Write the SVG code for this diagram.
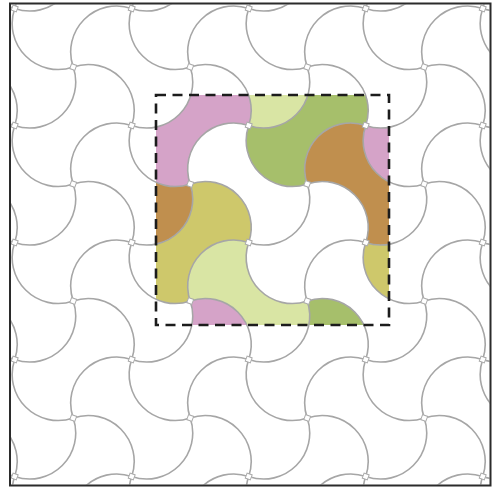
<svg xmlns="http://www.w3.org/2000/svg" xmlns:xlink="http://www.w3.org/1999/xlink" width="493" height="487" viewBox="0 0 493 487">
<style>
.arc{fill:none;stroke:#a6a6a6;stroke-width:1.6}
.jn{fill:#fff;stroke:#aaaaaa;stroke-width:1}
.pink{fill:#d5a3c8}
.lgreen{fill:#d9e5a4}
.green{fill:#a6bf6b}
.brown{fill:#c08f4e}
.olive{fill:#cec86b}
.box{fill:none;stroke:#1c1c1c;stroke-width:2.6;stroke-dasharray:10 6.5}
.frame{fill:none;stroke:#2b2b2b;stroke-width:2}
</style>
<defs>
<clipPath id="boxclip"><rect x="156" y="95" width="233" height="230"/></clipPath>
<clipPath id="frameclip"><rect x="11" y="4.5" width="478.5" height="480"/></clipPath>
<g id="arcunit"><path class="arc" d="M0,0A46,46 0 0 1 58.5,58.5M0,117A46,46 0 0 1 -58.5,58.5M0,0A46,46 0 0 1 58.5,-58.5M117,0A46,46 0 0 1 58.5,58.5"/></g>
<g id="arcrow"><use xlink:href="#arcunit" x="-43.8"/><use xlink:href="#arcunit" x="73.2"/><use xlink:href="#arcunit" x="190.2"/><use xlink:href="#arcunit" x="307.2"/><use xlink:href="#arcunit" x="424.2"/><use xlink:href="#arcunit" x="541.2"/></g>
<g id="jnunit"><rect class="jn" x="-2.7" y="-2.7" width="5.4" height="5.4" transform="rotate(20)"/><rect class="jn" x="-2.7" y="-2.7" width="5.4" height="5.4" transform="translate(58.5 58.5) rotate(20)"/></g>
<g id="jnrow"><use xlink:href="#jnunit" x="-43.8"/><use xlink:href="#jnunit" x="73.2"/><use xlink:href="#jnunit" x="190.2"/><use xlink:href="#jnunit" x="307.2"/><use xlink:href="#jnunit" x="424.2"/><use xlink:href="#jnunit" x="541.2"/></g>
</defs>
<rect width="493" height="487" fill="#fff"/>
<g id="colored-tiles" clip-path="url(#boxclip)">
<g id="tile-pink-1"><path class="pink" d="M131.7,125.5A46,46 0 0 0 190.2,67A46,46 0 0 1 248.7,125.5A46,46 0 0 0 190.2,184A46,46 0 0 1 131.7,125.5Z"/></g>
<g id="tile-lgreen-1"><path class="lgreen" d="M190.2,67A46,46 0 0 1 248.7,8.5A46,46 0 0 0 307.2,67A46,46 0 0 1 248.7,125.5A46,46 0 0 0 190.2,67Z"/></g>
<g id="tile-green-1"><path class="green" d="M248.7,125.5A46,46 0 0 0 307.2,67A46,46 0 0 1 365.7,125.5A46,46 0 0 0 307.2,184A46,46 0 0 1 248.7,125.5Z"/></g>
<g id="tile-pink-2"><path class="pink" d="M365.7,125.5A46,46 0 0 0 424.2,67A46,46 0 0 1 482.7,125.5A46,46 0 0 0 424.2,184A46,46 0 0 1 365.7,125.5Z"/></g>
<g id="tile-brown-1"><path class="brown" d="M73.2,184A46,46 0 0 1 131.7,125.5A46,46 0 0 0 190.2,184A46,46 0 0 1 131.7,242.5A46,46 0 0 0 73.2,184Z"/></g>
<g id="tile-brown-2"><path class="brown" d="M307.2,184A46,46 0 0 1 365.7,125.5A46,46 0 0 0 424.2,184A46,46 0 0 1 365.7,242.5A46,46 0 0 0 307.2,184Z"/></g>
<g id="tile-olive-1"><path class="olive" d="M131.7,242.5A46,46 0 0 0 190.2,184A46,46 0 0 1 248.7,242.5A46,46 0 0 0 190.2,301A46,46 0 0 1 131.7,242.5Z"/></g>
<g id="tile-olive-2"><path class="olive" d="M365.7,242.5A46,46 0 0 0 424.2,184A46,46 0 0 1 482.7,242.5A46,46 0 0 0 424.2,301A46,46 0 0 1 365.7,242.5Z"/></g>
<g id="tile-lgreen-2"><path class="lgreen" d="M190.2,301A46,46 0 0 1 248.7,242.5A46,46 0 0 0 307.2,301A46,46 0 0 1 248.7,359.5A46,46 0 0 0 190.2,301Z"/></g>
<g id="tile-pink-3"><path class="pink" d="M131.7,359.5A46,46 0 0 0 190.2,301A46,46 0 0 1 248.7,359.5A46,46 0 0 0 190.2,418A46,46 0 0 1 131.7,359.5Z"/></g>
<g id="tile-green-2"><path class="green" d="M248.7,359.5A46,46 0 0 0 307.2,301A46,46 0 0 1 365.7,359.5A46,46 0 0 0 307.2,418A46,46 0 0 1 248.7,359.5Z"/></g>
</g>
<g id="tiling-outlines" clip-path="url(#frameclip)">
<use xlink:href="#arcrow" y="-50"/><use xlink:href="#arcrow" y="67"/><use xlink:href="#arcrow" y="184"/><use xlink:href="#arcrow" y="301"/><use xlink:href="#arcrow" y="418"/><use xlink:href="#arcrow" y="535"/>
<use xlink:href="#jnrow" y="-50"/><use xlink:href="#jnrow" y="67"/><use xlink:href="#jnrow" y="184"/><use xlink:href="#jnrow" y="301"/><use xlink:href="#jnrow" y="418"/><use xlink:href="#jnrow" y="535"/>
</g>
<g id="selection-box"><rect class="box" x="156" y="95" width="233" height="230"/></g>
<g id="frame"><rect class="frame" x="10" y="3.5" width="480.5" height="482"/></g>
</svg>
